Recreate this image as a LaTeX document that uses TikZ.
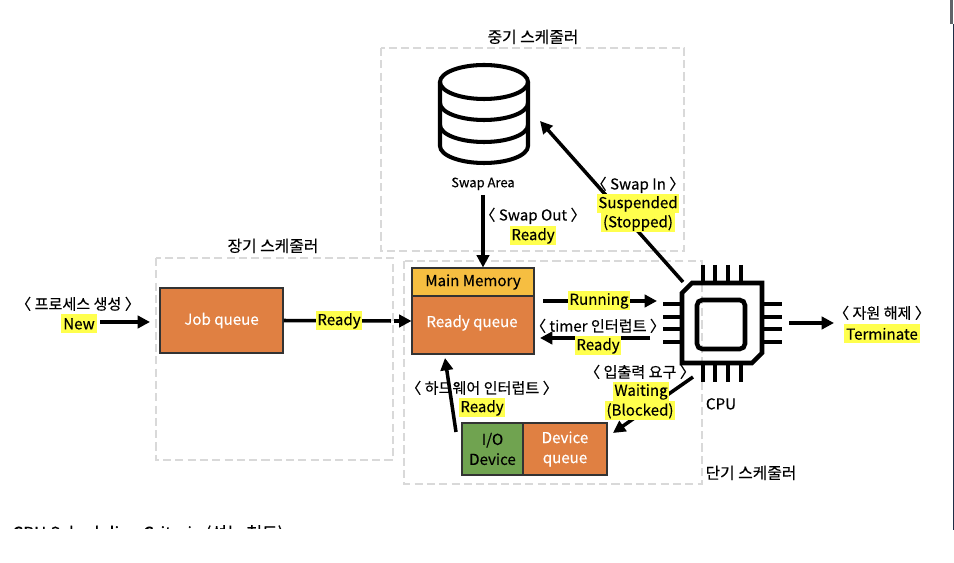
\documentclass[tikz,border=0pt]{standalone}
\usepackage{fontspec}
\setmainfont{Noto Sans CJK KR}[FakeBold=0.25]
\usetikzlibrary{arrows.meta}
\definecolor{queueorange}{HTML}{E08042}
\definecolor{memyellow}{HTML}{F6BE41}
\definecolor{iogreen}{HTML}{70A350}
\definecolor{hilite}{HTML}{FFFF4D}
\definecolor{dashgrey}{HTML}{D9D9D9}
\definecolor{barnavy}{HTML}{1F2D45}
\definecolor{bargrey}{HTML}{5F6368}
\tikzset{
  lbl/.style={font=\fontsize{8.6}{10}\selectfont,inner sep=0pt,yshift=-0.5pt},
  hl/.style={lbl,fill=hilite,inner xsep=1pt,minimum height=0.38cm},
  queuebox/.style={draw=black!80,line width=0.6pt,fill=queueorange,text=white,
    font=\fontsize{8.6}{11.4}\selectfont,align=center,inner sep=0pt},
  line/.style={line width=2pt},
  flow/.style={line,-{Triangle[length=7pt,width=7pt]}},
  schedbox/.style={dashgrey,line width=1.6pt,dash pattern=on 4.6pt off 2.4pt},
  pin/.style={line width=2.5pt}
}
\begin{document}
\begin{tikzpicture}[x=0.02cm,y=-0.02cm]
\useasboundingbox (0,0) rectangle (954,563);

% Scheduler regions
\draw[schedbox] (381,48) rectangle (684,251);
\draw[schedbox] (156,258) rectangle (393,460);
\draw[schedbox] (404,261) rectangle (702,484);
\node[lbl,font=\fontsize{9}{10}\selectfont] (midtitle) at (533,36) {중기 스케줄러};
\node[lbl,font=\fontsize{9}{10}\selectfont] (longtitle) at (273,245) {장기 스케줄러};
\node[lbl,font=\fontsize{9}{10}\selectfont] (shorttitle) at (751,472) {단기 스케줄러};

% Queues
\node[queuebox,minimum width=2.46cm,minimum height=1.3cm] (jobqueue) at (221.5,320.5) {Job queue};
\node[queuebox,minimum width=2.44cm,minimum height=0.56cm,fill=memyellow,text=black] (mainmem) at (473,282) {Main Memory};
\node[queuebox,minimum width=2.44cm,minimum height=1.16cm] (readyqueue) at (473,325) {};
\node[lbl,text=white] (readytext) at (472,322) {Ready queue};
\node[queuebox,minimum width=1.22cm,minimum height=1.04cm,fill=iogreen,text=black] (iodevice) at (492.5,449) {I/O\\Device};
\node[queuebox,minimum width=1.68cm,minimum height=1.04cm] (devqueue) at (565,449) {Device\\queue};

% Swap area
\draw[line width=2.3pt] (484,82) ellipse (44 and 17);
\draw[line width=2.3pt] (440,82) -- (440,146) arc (180:0:44 and 17) -- (528,82);
\draw[line width=2.3pt] (440,103) arc (180:0:44 and 17);
\draw[line width=2.3pt] (440,125) arc (180:0:44 and 17);
\node[lbl,font=\fontsize{7.4}{9}\selectfont] (swaparea) at (483,183) {Swap Area};

% CPU
\draw[line width=2.6pt] (692,283) -- (762,283) -- (762,353) -- (752,363) -- (682,363) -- (682,293) -- cycle;
\draw[line width=2.6pt,rounded corners=3pt] (697,300) rectangle (745,349);
\foreach \px in {703,715,728,741} {
  \draw[pin] (\px,265) -- (\px,283);
  \draw[pin] (\px,363) -- (\px,382);
}
\foreach \py in {304,317,329,342} {
  \draw[pin] (663,\py) -- (682,\py);
  \draw[pin] (762,\py) -- (782,\py);
}
\node[lbl] (cpu) at (721,403) {CPU};

% Arrow ends
\coordinate (newstart) at (100,322);
\coordinate (newend) at (150,322);
\coordinate (jobgapa) at (391,321);
\coordinate (jobgapb) at (394,321);
\coordinate (swapinstart) at (683,282);
\coordinate (swapinend) at (540,121);
\coordinate (runstart) at (543,301);
\coordinate (runend) at (657,301);
\coordinate (timerstart) at (650,338);
\coordinate (timerend) at (540,338);
\coordinate (iostart) at (693,377);
\coordinate (ioend) at (613,433);
\coordinate (hwstart) at (456,432);
\coordinate (hwend) at (445,358);
\coordinate (termstart) at (789,323);
\coordinate (termend) at (834,323);

% Arrows
\draw[flow] (newstart) -- (newend);
\draw[line] (jobqueue.east) -- (jobgapa);
\draw[flow] (jobgapb) -- (jobgapb -| readyqueue.west);
\draw[flow] (swaparea.south |- 0,195) -- (swaparea.south |- mainmem.north);
\draw[flow] (swapinstart) -- (swapinend);
\draw[flow] (runstart) -- (runend);
\draw[flow] (timerstart) -- (timerend);
\draw[flow] (iostart) -- (ioend);
\draw[flow] (hwstart) -- (hwend);
\draw[flow] (termstart) -- (termend);

% Labels
\node[lbl] (newlbl) at (78,303) {〈 프로세스 생성 〉};
\node[hl] (newstate) at (79,323) {New};
\node[hl] (jobready) at (339,320) {Ready};
\node[lbl] (swapoutlbl) at (533,215) {〈 Swap Out 〉};
\node[hl] (swapoutstate) at (533,235) {Ready};
\node[lbl] (swapinlbl) at (638,184) {〈 Swap In 〉};
\node[hl] (suspended) at (638,203) {Suspended};
\node[hl] (stopped) at (638,222) {(Stopped)};
\node[hl] (running) at (599,300) {Running};
\node[lbl] (timerlbl) at (598,325) {〈 timer 인터럽트 〉};
\node[hl] (timerstate) at (598,345) {Ready};
\node[lbl] (iolbl) at (640,371) {〈 입출력 요구 〉};
\node[hl] (waiting) at (641,391) {Waiting};
\node[hl] (blocked) at (640,410) {(Blocked)};
\node[lbl] (hwlbl) at (482,387) {〈 하드웨어 인터럽트 〉};
\node[hl] (hwstate) at (482,407) {Ready};
\node[lbl] (termlbl) at (882,312) {〈 자원 해제 〉};
\node[hl] (terminate) at (882,333) {Terminate};

% Cut off line of text
\begin{scope}
\clip (0,500) rectangle (954,529);
\node[lbl,anchor=west,font=\fontsize{9.7}{11}\selectfont] (cuttext) at (12,533.5) {CPU Scheduling Criteria (성능 척도)};
\end{scope}

% Window edge
\fill[bargrey] (950,0) rectangle (953,24);
\draw[barnavy,line width=0.6pt] (953.5,24) -- (953.5,530);
\end{tikzpicture}
\end{document}
